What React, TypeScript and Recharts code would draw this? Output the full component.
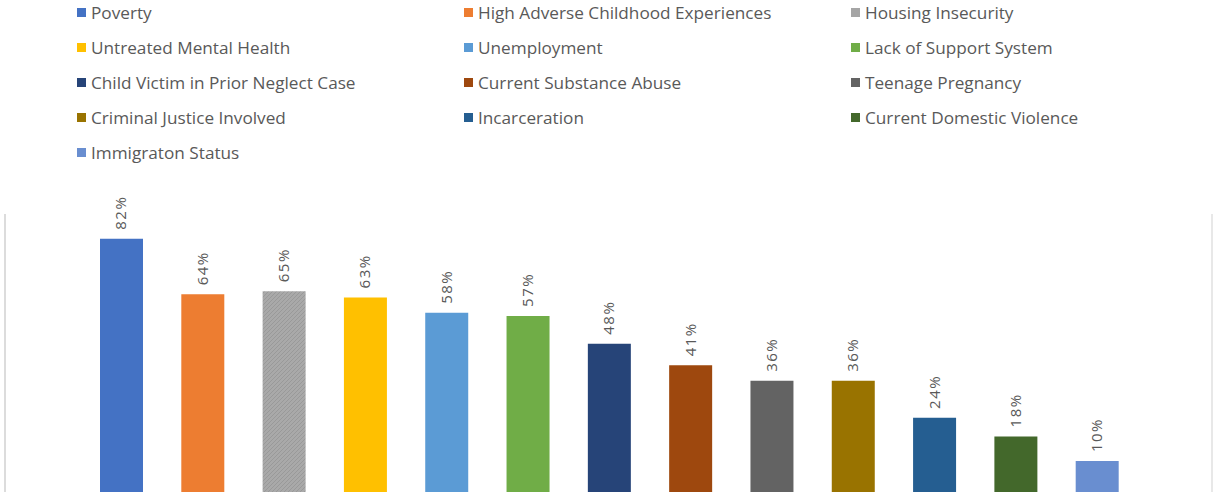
import { Bar, BarChart, Cell, LabelList, XAxis, YAxis } from "recharts";

const categories = [
  "Poverty",
  "High Adverse Childhood Experiences",
  "Housing Insecurity",
  "Untreated Mental Health",
  "Unemployment",
  "Lack of Support System",
  "Child Victim in Prior Neglect Case",
  "Current Substance Abuse",
  "Teenage Pregnancy",
  "Criminal Justice Involved",
  "Incarceration",
  "Current Domestic Violence",
  "Immigraton Status",
];

const values = [82, 64, 65, 63, 58, 57, 48, 41, 36, 36, 24, 18, 10];

const colors = [
  "#4472C4",
  "#ED7D31",
  "url(#housingHatch)",
  "#FFC000",
  "#5B9BD5",
  "#70AD47",
  "#264478",
  "#9E480E",
  "#636363",
  "#997300",
  "#255E91",
  "#43682B",
  "#698ED0",
];

const swatches = colors.map((c) => (c.startsWith("url") ? "#A5A5A5" : c));

const yDomain: [number, number] = [0, 90];

const FONT = '"Open Sans", "Noto Sans", sans-serif';
const TEXT = "#595959";

const chartData = categories.map((name, i) => ({ name, value: values[i] }));

function RotatedLabel(props: any) {
  const { x, y, width, value } = props;
  const cx = Number(x) + Number(width) / 2;
  const ty = Number(y) - 9;
  return (
    <text
      x={cx}
      y={ty}
      transform={`rotate(-90 ${cx} ${ty})`}
      dy={5}
      textAnchor="start"
      fill={TEXT}
      fontSize={15}
      fontFamily={FONT}
      letterSpacing={1.5}
    >
      {`${value}%`}
    </text>
  );
}

function LegendBlock() {
  const colX = [77, 464, 851];
  return (
    <div style={{ position: "absolute", left: 0, top: 0, width: 1213, height: 175 }}>
      {categories.map((name, i) => {
        const row = Math.floor(i / 3);
        const col = i % 3;
        return (
          <div
            key={name}
            style={{
              position: "absolute",
              left: colX[col],
              top: 12 + row * 35.2 - 12,
              height: 24,
              display: "flex",
              alignItems: "center",
              whiteSpace: "nowrap",
              fontFamily: FONT,
              fontSize: 17.2,
              color: TEXT,
            }}
          >
            <span
              style={{
                display: "inline-block",
                width: 9,
                height: 9,
                background: swatches[i],
                marginRight: 5,
              }}
            />
            {name}
          </div>
        );
      })}
    </div>
  );
}

export default function App() {
  return (
    <div style={{ position: "relative", width: 1213, height: 495, background: "#fff", overflow: "hidden" }}>
      <style>{`body{margin:0}`}</style>
      <svg width={0} height={0} style={{ position: "absolute" }}>
        <defs>
          <pattern id="housingHatch" width={4} height={4} patternUnits="userSpaceOnUse">
            <rect width={4} height={4} fill="#A9A9A9" />
            <path d="M0 4 L4 0" stroke="#999999" strokeWidth={1} />
          </pattern>
        </defs>
      </svg>
      <LegendBlock />
      <BarChart
        width={1213}
        height={495}
        data={chartData}
        margin={{ top: 214, right: 0, bottom: 3, left: 4 }}
        style={{ position: "absolute", left: 0, top: 0 }}
      >
        <XAxis dataKey="name" hide padding={{ left: 76, right: 74 }} />
        <YAxis
          yAxisId="left"
          domain={yDomain}
          width={1}
          tick={false}
          tickLine={false}
          axisLine={{ stroke: "#D0D0D0", strokeWidth: 1.5 }}
        />
        <YAxis
          yAxisId="right"
          orientation="right"
          domain={yDomain}
          width={1}
          tick={false}
          tickLine={false}
          axisLine={{ stroke: "#E0E0E0", strokeWidth: 1.5 }}
        />
        <Bar yAxisId="left" dataKey="value" barSize={43} isAnimationActive={false}>
          {chartData.map((d, i) => (
            <Cell key={d.name} fill={colors[i]} />
          ))}
          <LabelList dataKey="value" content={RotatedLabel} />
        </Bar>
      </BarChart>
    </div>
  );
}
